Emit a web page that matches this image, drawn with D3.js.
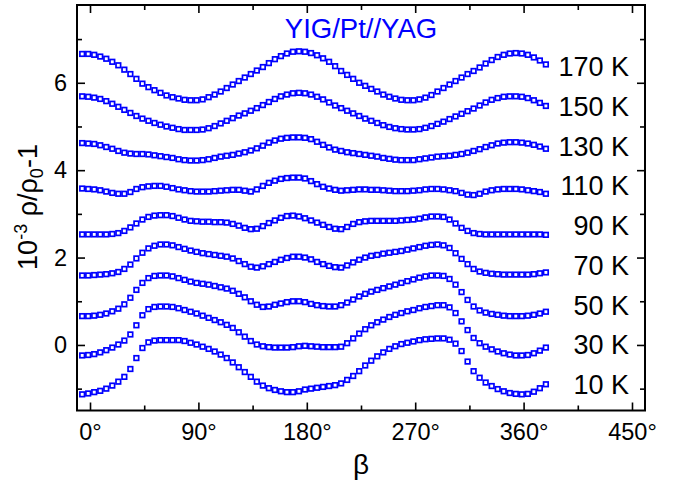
<!DOCTYPE html>
<html><head><meta charset="utf-8">
<script src="https://cdn.jsdelivr.net/npm/d3@7"></script>
<style>
body{margin:0;background:#fff}
svg{display:block}
text{font-family:"Liberation Sans",Arial,Helvetica,sans-serif}
</style>
</head><body>
<svg id="chart" width="677" height="485"></svg>
<script>
// angle of each measurement (degrees)
const angles = [-6.5,-1.5,3.5,8.5,13.5,18.5,23.5,28.5,33.5,38.5,43.5,48.5,53.5,58.5,63.5,68.5,73.5,78.5,83.5,88.5,
93.5,98.5,103.5,108.5,113.5,118.5,123.5,128.5,133.5,138.5,143.5,148.5,153.5,158.5,163.5,168.5,173.5,178.5,183.5,188.5,
193.5,198.5,203.5,208.5,213.5,218.5,223.5,228.5,233.5,238.5,243.5,248.5,253.5,258.5,263.5,268.5,273.5,278.5,283.5,288.5,
293.5,298.5,303.5,308.5,313.5,318.5,323.5,328.5,333.5,338.5,343.5,348.5,353.5,358.5,363.5,368.5,373.5,378.5];

const tempLabels = ["170 K","150 K","130 K","110 K","90 K","70 K","50 K","30 K","10 K"];

const s170 = [6.66,6.66,6.64,6.60,6.55,6.48,6.40,6.30,6.20,6.09,5.98,5.90,5.83,5.77,5.71,5.67,5.64,5.61,5.60,5.60,
5.62,5.67,5.73,5.80,5.88,5.96,6.04,6.12,6.20,6.28,6.36,6.45,6.54,6.61,6.67,6.71,6.72,6.71,6.68,6.63,
6.56,6.48,6.38,6.27,6.18,6.09,6.00,5.93,5.86,5.80,5.73,5.68,5.64,5.61,5.60,5.60,5.62,5.66,5.72,5.80,
5.88,5.96,6.04,6.12,6.20,6.27,6.35,6.44,6.52,6.59,6.64,6.67,6.68,6.67,6.64,6.58,6.51,6.42];

const s150 = [5.69,5.68,5.66,5.63,5.58,5.52,5.45,5.38,5.31,5.24,5.18,5.13,5.08,5.04,5.00,4.97,4.94,4.92,4.92,4.92,
4.93,4.96,5.01,5.07,5.13,5.19,5.25,5.30,5.36,5.42,5.49,5.56,5.63,5.69,5.73,5.76,5.77,5.76,5.73,5.68,
5.62,5.55,5.48,5.42,5.36,5.30,5.24,5.18,5.13,5.08,5.03,4.99,4.96,4.94,4.93,4.93,4.94,4.97,5.01,5.06,
5.11,5.17,5.23,5.29,5.35,5.41,5.48,5.55,5.61,5.65,5.68,5.69,5.69,5.68,5.65,5.60,5.54,5.47];

const s130 = [4.62,4.61,4.60,4.57,4.53,4.49,4.44,4.40,4.38,4.37,4.37,4.36,4.34,4.32,4.30,4.28,4.25,4.23,4.22,4.22,
4.23,4.25,4.28,4.31,4.33,4.35,4.38,4.41,4.45,4.50,4.56,4.63,4.68,4.72,4.74,4.75,4.75,4.74,4.71,4.65,
4.58,4.52,4.47,4.44,4.41,4.39,4.37,4.35,4.33,4.31,4.28,4.26,4.24,4.23,4.23,4.23,4.25,4.27,4.29,4.31,
4.32,4.33,4.35,4.37,4.40,4.44,4.48,4.53,4.57,4.61,4.63,4.64,4.64,4.63,4.61,4.58,4.54,4.49];

const s110 = [3.58,3.57,3.56,3.54,3.51,3.48,3.46,3.46,3.50,3.57,3.61,3.63,3.64,3.64,3.62,3.59,3.56,3.54,3.52,3.51,
3.51,3.51,3.52,3.53,3.54,3.55,3.55,3.53,3.51,3.56,3.64,3.71,3.76,3.80,3.82,3.83,3.83,3.81,3.75,3.68,
3.62,3.58,3.55,3.53,3.54,3.55,3.56,3.56,3.55,3.55,3.54,3.53,3.52,3.52,3.52,3.53,3.54,3.56,3.57,3.57,
3.56,3.54,3.52,3.48,3.44,3.43,3.46,3.51,3.54,3.56,3.57,3.57,3.57,3.56,3.54,3.52,3.50,3.46];

const s90 = [2.53,2.53,2.53,2.53,2.53,2.54,2.56,2.61,2.69,2.78,2.87,2.93,2.96,2.97,2.97,2.95,2.91,2.87,2.84,2.83,
2.82,2.82,2.81,2.81,2.80,2.77,2.73,2.68,2.65,2.66,2.72,2.79,2.85,2.91,2.95,2.96,2.94,2.90,2.85,2.80,
2.75,2.70,2.66,2.65,2.70,2.77,2.81,2.83,2.84,2.84,2.84,2.84,2.84,2.85,2.86,2.87,2.89,2.92,2.94,2.94,
2.93,2.87,2.78,2.68,2.61,2.56,2.54,2.53,2.53,2.53,2.53,2.53,2.53,2.53,2.53,2.53,2.53,2.52];

const s70 = [1.59,1.59,1.60,1.61,1.62,1.64,1.67,1.74,1.84,1.98,2.11,2.21,2.27,2.30,2.30,2.28,2.24,2.20,2.16,2.13,
2.10,2.08,2.06,2.04,2.02,1.98,1.92,1.85,1.79,1.77,1.80,1.85,1.90,1.95,1.99,2.02,2.02,2.00,1.96,1.90,
1.85,1.81,1.78,1.77,1.82,1.89,1.95,2.00,2.04,2.06,2.09,2.11,2.13,2.15,2.18,2.21,2.24,2.27,2.29,2.30,
2.28,2.22,2.10,1.97,1.85,1.74,1.68,1.65,1.63,1.62,1.61,1.61,1.61,1.61,1.61,1.62,1.64,1.66];

const s50 = [0.66,0.66,0.67,0.69,0.72,0.77,0.83,0.93,1.08,1.26,1.42,1.53,1.58,1.59,1.59,1.57,1.53,1.49,1.45,1.42,
1.40,1.38,1.35,1.32,1.29,1.24,1.17,1.09,1.00,0.92,0.87,0.88,0.92,0.95,0.98,1.00,1.00,0.98,0.94,0.91,
0.89,0.88,0.88,0.91,0.97,1.04,1.11,1.17,1.22,1.26,1.30,1.34,1.38,1.42,1.46,1.50,1.54,1.57,1.59,1.59,
1.58,1.51,1.38,1.21,1.03,0.88,0.79,0.74,0.71,0.69,0.67,0.66,0.66,0.66,0.67,0.69,0.72,0.76];

const s30 = [-0.24,-0.23,-0.21,-0.17,-0.12,-0.06,0.01,0.10,0.24,0.45,0.68,0.82,0.87,0.88,0.88,0.87,0.84,0.80,0.76,0.72,
0.67,0.62,0.57,0.52,0.46,0.39,0.29,0.19,0.09,0.01,-0.03,-0.05,-0.06,-0.06,-0.06,-0.05,-0.03,-0.02,-0.03,-0.04,
-0.05,-0.05,-0.05,-0.04,0.04,0.15,0.26,0.36,0.45,0.52,0.58,0.64,0.69,0.73,0.77,0.80,0.84,0.87,0.89,0.91,
0.91,0.86,0.73,0.54,0.34,0.16,0.04,-0.04,-0.10,-0.15,-0.19,-0.22,-0.24,-0.24,-0.23,-0.19,-0.13,-0.06];

const s10 = [-1.13,-1.11,-1.08,-1.05,-1.00,-0.93,-0.84,-0.73,-0.55,-0.30,-0.07,0.06,0.10,0.11,0.11,0.11,0.11,0.09,0.05,0.01,
-0.04,-0.09,-0.15,-0.22,-0.30,-0.40,-0.51,-0.62,-0.73,-0.84,-0.93,-0.99,-1.03,-1.06,-1.08,-1.08,-1.06,-1.02,-1.00,-0.98,
-0.96,-0.94,-0.92,-0.88,-0.80,-0.71,-0.60,-0.47,-0.36,-0.26,-0.17,-0.09,-0.03,0.02,0.05,0.08,0.11,0.13,0.14,0.15,
0.15,0.12,0.03,-0.14,-0.38,-0.60,-0.75,-0.86,-0.94,-1.01,-1.06,-1.10,-1.12,-1.13,-1.12,-1.07,-0.99,-0.90];

const seriesList = [s170,s150,s130,s110,s90,s70,s50,s30,s10];

const xMajorTicks = [0,90,180,270,360,450];
const xMinorTicks = [45,135,225,315,405];
const yMajorTicks = [0,2,4,6];
const yMinorTicks = [-1,1,3,5,7];

const titleText = "YIG/Pt//YAG";
const xTitle = "β";

// ---------------- drawing ----------------
const svg = d3.select("#chart");
const L = 77, R = 645, T = 5, B = 410.5;
const x = d3.scaleLinear().domain([-10.8, 460.8]).range([L, R]);
const y = d3.scaleLinear().domain([-1.5, 7.78]).range([B, T]);
const blue = "#0000ff";

function styleAxis(g){
  g.select(".domain").remove();
  g.selectAll(".tick line").attr("stroke","#000").attr("stroke-width",1.6);
  g.selectAll(".tick text").attr("fill","#000").style("font-size","23.5px")
   .style("font-family",'"Liberation Sans",Arial,sans-serif');
}

// bottom
svg.append("g").attr("transform",`translate(0,${B})`)
  .call(d3.axisBottom(x).tickValues(xMajorTicks).tickSize(-8).tickPadding(13).tickFormat(d=>d+"°"))
  .call(styleAxis);
svg.append("g").attr("transform",`translate(0,${B})`)
  .call(d3.axisBottom(x).tickValues(xMinorTicks).tickSize(-5).tickFormat(""))
  .call(styleAxis);
// top
svg.append("g").attr("transform",`translate(0,${T})`)
  .call(d3.axisTop(x).tickValues(xMajorTicks).tickSize(-8).tickFormat(""))
  .call(styleAxis);
svg.append("g").attr("transform",`translate(0,${T})`)
  .call(d3.axisTop(x).tickValues(xMinorTicks).tickSize(-5).tickFormat(""))
  .call(styleAxis);
// left
svg.append("g").attr("transform",`translate(${L},0)`)
  .call(d3.axisLeft(y).tickValues(yMajorTicks).tickSize(-8).tickPadding(10).tickFormat(d3.format("d")))
  .call(styleAxis);
svg.append("g").attr("transform",`translate(${L},0)`)
  .call(d3.axisLeft(y).tickValues(yMinorTicks).tickSize(-5).tickFormat(""))
  .call(styleAxis);
// right
svg.append("g").attr("transform",`translate(${R},0)`)
  .call(d3.axisRight(y).tickValues(yMajorTicks).tickSize(-8).tickFormat(""))
  .call(styleAxis);
svg.append("g").attr("transform",`translate(${R},0)`)
  .call(d3.axisRight(y).tickValues(yMinorTicks).tickSize(-5).tickFormat(""))
  .call(styleAxis);

// frame
svg.append("rect").attr("x",L).attr("y",T).attr("width",R-L).attr("height",B-T)
  .attr("fill","none").attr("stroke","#000").attr("stroke-width",2);

// markers
const mk = 4.6;
seriesList.forEach((vals,si)=>{
  svg.append("g").selectAll("rect")
    .data(angles.map((a,i)=>[a, vals[i]]))
    .join("rect")
    .attr("x",d=>x(d[0])-mk/2).attr("y",d=>y(d[1])-mk/2)
    .attr("width",mk).attr("height",mk)
    .attr("fill","#fff").attr("stroke",blue).attr("stroke-width",1.7);
});

// temperature labels
svg.append("g").selectAll("text").data(tempLabels).join("text")
  .attr("x",629).attr("y",(d,i)=>76 + i*39.75)
  .attr("text-anchor","end").style("font-size","27px").attr("fill","#000")
  .text(d=>d);

// title
svg.append("text").attr("x",361).attr("y",38).attr("text-anchor","middle")
  .style("font-size","27.5px").attr("fill",blue).text(titleText);

// x title
svg.append("text").attr("x",361).attr("y",474).attr("text-anchor","middle")
  .style("font-size","28px").attr("fill","#000").text(xTitle);

// y title
const yt = svg.append("text").attr("transform","translate(37,207) rotate(-90)")
  .attr("text-anchor","middle").style("font-size","27px").attr("fill","#000");
yt.append("tspan").text("10");
yt.append("tspan").attr("dy",-10).style("font-size","18px").text("-3");
yt.append("tspan").attr("dy",10).text(" ρ/ρ");
yt.append("tspan").attr("dy",6).style("font-size","18px").text("0");
yt.append("tspan").attr("dy",-6).text("-1");
</script>
</body></html>
